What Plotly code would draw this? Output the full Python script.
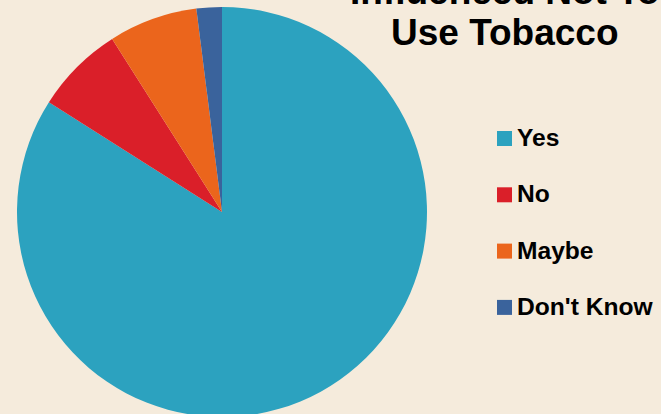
import plotly.graph_objects as go

# Survey answers
labels = ["Yes", "No", "Maybe", "Don't Know"]
values = [84, 7, 7, 2]
colors = ["#2CA2BF", "#DA1F29", "#EB651C", "#3A639C"]

title_lines = ["Influenced Not To", "Use Tobacco"]

W, H = 661, 420
M_TOP, M_BOT = 7, 3
BG = "#F5EBDC"
FONT = "Liberation Sans, Arial, sans-serif"


def px_x(px):
    return px / W


def px_y(py):
    return (H - M_BOT - py) / (H - M_TOP - M_BOT)


fig = go.Figure(
    go.Pie(
        labels=labels,
        values=values,
        marker=dict(colors=colors, line=dict(width=0)),
        sort=False,
        direction="clockwise",
        rotation=0,
        textinfo="none",
        hoverinfo="label+percent",
        showlegend=False,
        domain=dict(x=[px_x(17), px_x(427)], y=[0, 1]),
    )
)

# Two-line heading, the first line running off the top edge
title_baselines = [4.5, 45]
title_size = 37
for line, base in zip(title_lines, title_baselines):
    fig.add_annotation(
        text=f"<b>{line}</b>",
        x=px_x(505), y=px_y(base - 0.3465 * title_size),
        xref="paper", yref="paper",
        xanchor="center", yanchor="middle",
        showarrow=False,
        font=dict(family=FONT, size=title_size, color="#000000"),
    )

# Legend: colour swatch plus label for each slice
legend_top = 138.5
legend_step = 56.3
sw = 15
leg_size = 24.6
for i, (lab, col) in enumerate(zip(labels, colors)):
    cy = legend_top + i * legend_step
    fig.add_shape(
        type="rect", xref="paper", yref="paper",
        x0=px_x(497), x1=px_x(497 + sw),
        y0=px_y(cy + sw / 2), y1=px_y(cy - sw / 2),
        fillcolor=col, line=dict(width=0),
    )
    base = cy + sw / 2
    fig.add_annotation(
        text=f"<b>{lab}</b>",
        x=px_x(515), y=px_y(base - 0.3465 * leg_size),
        xref="paper", yref="paper",
        xanchor="left", yanchor="middle",
        showarrow=False,
        font=dict(family=FONT, size=leg_size, color="#000000"),
    )

fig.update_layout(
    width=W, height=H,
    margin=dict(l=0, r=0, t=M_TOP, b=M_BOT, pad=0),
    paper_bgcolor=BG,
    plot_bgcolor=BG,
    showlegend=False,
)

fig.write_html(
    "out.html",
    config=dict(displayModeBar=False),
    post_script="document.documentElement.style.overflow='hidden';document.body.style.overflow='hidden';document.body.style.margin='0';",
)
